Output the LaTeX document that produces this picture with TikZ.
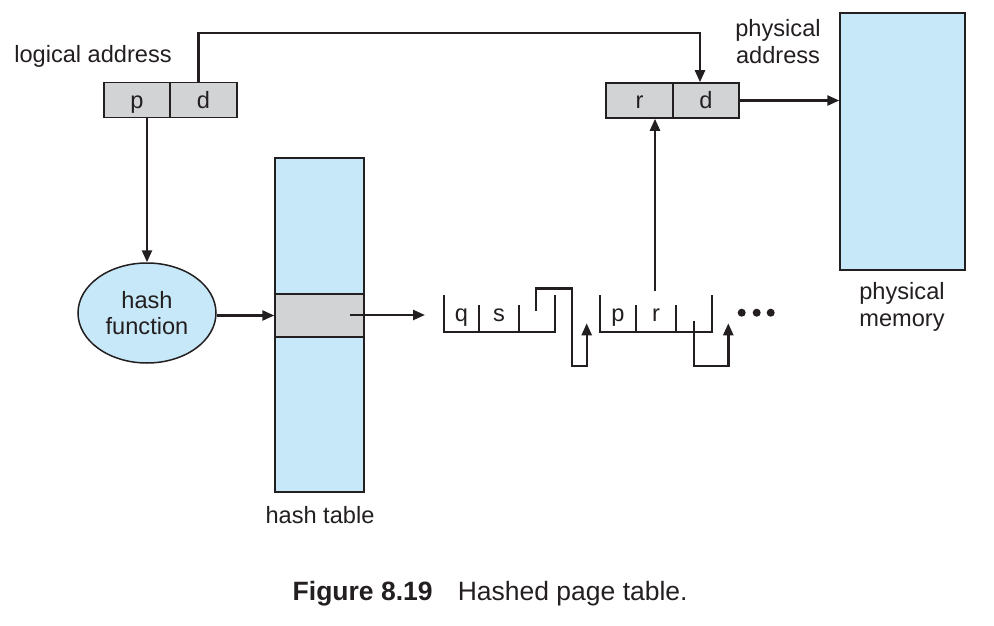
\documentclass[tikz,border=0pt]{standalone}
\usepackage{fontspec}
\setmainfont{Liberation Sans}
\usetikzlibrary{shapes.geometric,arrows.meta}
\definecolor{ink}{HTML}{231F20}
\definecolor{cellgray}{HTML}{D1D3D4}
\definecolor{lblue}{HTML}{C7E8F8}
\begin{document}
\begin{tikzpicture}[x=1pt,y=-1pt,
  txt/.style={font=\fontsize{23.6pt}{26.7pt}\selectfont, text=ink, inner sep=0pt, align=center},
  cell/.style={draw=ink, line width=1.6pt, fill=cellgray, inner sep=0pt, minimum height=35pt, text height=17pt, text depth=0pt, font=\fontsize{23.6pt}{26pt}\selectfont, text=ink},
  bluebox/.style={draw=ink, line width=1.4pt, fill=lblue, inner sep=0pt},
  conn/.style={draw=ink, line width=2.4pt},
  arr/.style={conn, -{Triangle[length=12pt,width=10pt]}},
  lst/.style={draw=ink, line width=2.4pt}
]
\useasboundingbox (0,0) rectangle (994,626);
% logical address
\node[txt, anchor=base] (la) at (93,62.5) {logical address};
\node[cell, minimum width=66.5pt] (pbox) at (137,100) {p};
\node[cell, minimum width=66.5pt] (dbox) at (203.5,100) {d};
% physical address
\node[txt] (pa) at (778,41.5) {physical\\address};
\node[cell, minimum width=66.5pt] (rbox) at (639.5,100.5) {r};
\node[cell, minimum width=66.5pt] (d2box) at (706,100.5) {d};
% physical memory
\node[bluebox, minimum width=125pt, minimum height=257pt] (mem) at (902.5,141.5) {};
\node[txt, font=\fontsize{23.6pt}{27.3pt}\selectfont] (pm) at (902,307) {physical\\memory};
% hash function
\node[ellipse, draw=ink, line width=1.5pt, fill=lblue, minimum width=138pt, minimum height=100pt, inner sep=0pt, txt] (hf) at (147,313) {hash\\function};
% hash table
\node[bluebox, minimum width=89pt, minimum height=334pt] (ht) at (319.5,325) {};
\node[draw=ink, line width=1.4pt, fill=cellgray, minimum width=89pt, minimum height=43pt, inner sep=0pt] (band) at (319.5,315.5) {};
\node[txt, anchor=base] (htl) at (320,523.3) {hash table};
% caption
\node[font=\fontsize{26.5pt}{30pt}\selectfont, text=ink, inner sep=0pt, anchor=base west] (cap) at (292.5,600.7) {\textbf{Figure 8.19}\hspace{0.95em}Hashed page table.};

% connectors
\draw[arr] (hf.north |- pbox.south) -- (hf.north);
\draw[arr] ([xshift=-5pt]dbox.north) -- ++(0,-48.5) -| ([xshift=-6pt]d2box.north);
\draw[arr] (d2box.east) -- (mem.west |- d2box.east);
\draw[arr] (hf.east |- band.west) -- (band.west);
\coordinate (bandout) at (350,315);
\coordinate (listin) at (425,315);
\draw[arr] (bandout) -- (listin);
\coordinate (rup) at (655,291);
\draw[arr] (rup) -- (rup |- rbox.south);

% linked list node 1
\coordinate (n1tl) at (444,295);
\coordinate (n1bl) at (444,331.7);
\coordinate (n1br) at (555,331.7);
\coordinate (n1tr) at (555,295);
\draw[lst] (n1tl) -- (n1bl) -- (n1br) -- (n1tr);
\draw[lst] (479,305) -- (479,331.7);
\draw[lst] (519,305) -- (519,331.7);
\draw[lst] (536,311) -- (536,288.3) -- (571.7,288.3) -- (571.7,365.7) -- (586.7,365.7);
\draw[arr] (586.7,366.9) -- (586.7,323.3);
\node[txt, anchor=base] (q) at (461.5,321.7) {q};
\node[txt, anchor=base] (s) at (499,321.7) {s};
% linked list node 2
\coordinate (n2tl) at (600,295);
\coordinate (n2bl) at (600,331.7);
\coordinate (n2br) at (711.7,331.7);
\coordinate (n2tr) at (711.7,295);
\draw[lst] (n2tl) -- (n2bl) -- (n2br) -- (n2tr);
\draw[lst] (635.7,305) -- (635.7,331.7);
\draw[lst] (676,305) -- (676,331.7);
\draw[lst] (694,320.7) -- (694,365.7) -- (728.3,365.7);
\draw[arr] (728.3,366.9) -- (728.3,323.3);
\node[txt, anchor=base] (p2) at (618,321.7) {p};
\node[txt, anchor=base] (r2) at (656,321.7) {r};
% dots
\fill[ink] (741.7,312.7) circle (4pt) (756.7,312.7) circle (4pt) (770.7,312.7) circle (4pt);
\end{tikzpicture}
\end{document}
